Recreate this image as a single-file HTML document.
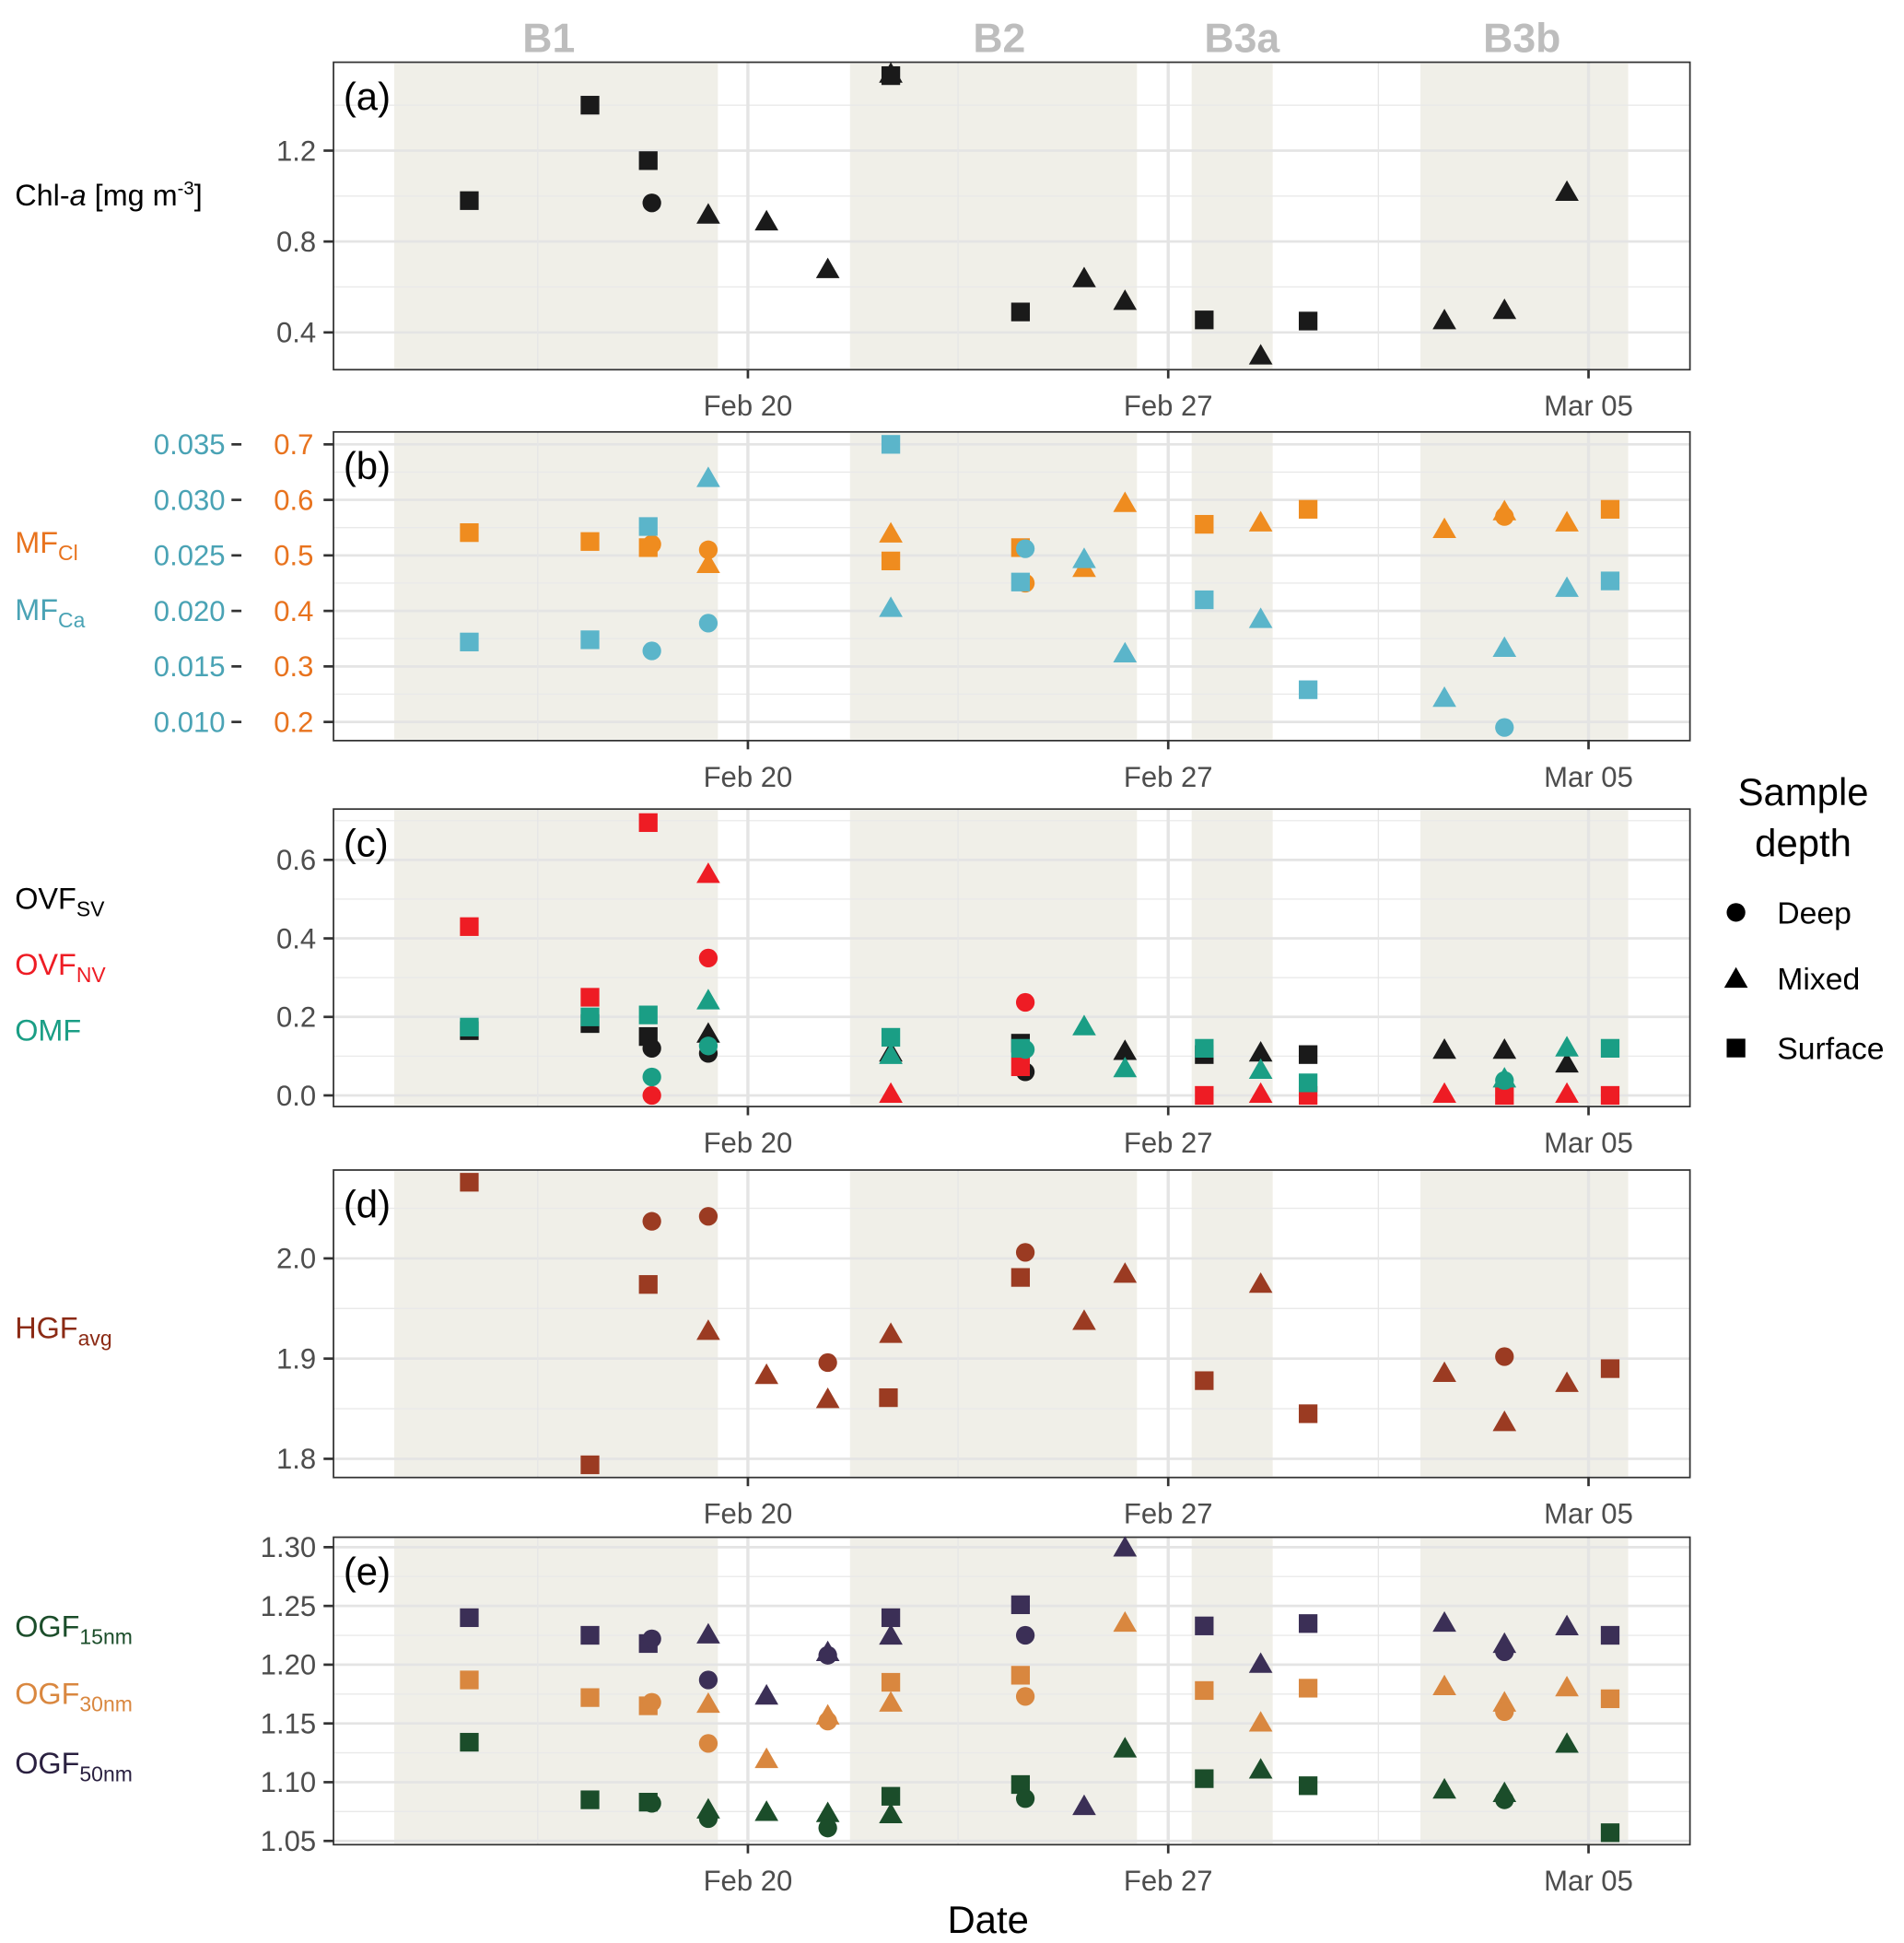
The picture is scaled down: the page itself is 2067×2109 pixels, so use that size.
<!DOCTYPE html>
<html><head><meta charset="utf-8">
<style>html,body{margin:0;padding:0;background:#fff}svg{display:block}text{font-family:"Liberation Sans",sans-serif}</style>
</head><body>
<svg id="chart" width="2067" height="2109" viewBox="0 0 1530 1561" preserveAspectRatio="none" xmlns="http://www.w3.org/2000/svg"></svg>
<script>
// Day offsets from Feb 20
const xTickDays = [0, 7, 14];
const xTickLabels = ["Feb 20", "Feb 27", "Mar 05"];
const bloomNames = ["B1", "B2", "B3a", "B3b"];
const bloomStart = [-5.89, 1.7, 7.39, 11.2];
const bloomEnd = [-0.5, 6.48, 8.74, 14.66];

// Panel a: Chl-a
const aX = [-4.64,-2.63,-1.66,-1.6,-0.66,0.31,1.33,2.38,2.38,4.54,5.6,6.28,7.6,8.54,9.33,11.6,12.6,13.64];
const aShape = ["s","s","s","c","t","t","t","s","t","s","t","t","s","t","s","t","t","t"];
const aChl = [0.98,1.40,1.156,0.97,0.92,0.89,0.68,1.53,1.54,0.49,0.64,0.54,0.455,0.30,0.45,0.455,0.50,1.02];

// Panel b
const bX = [-4.64,-2.63,-1.66,-1.6,-0.66,-0.66,2.38,2.38,4.54,4.62,5.6,6.28,7.6,8.54,9.33,11.6,12.6,12.6,13.64,14.36];
const bShape = ["s","s","s","c","c","t","s","t","s","c","t","t","s","t","s","t","t","c","t","s"];
const bMFCl = [0.541,0.525,0.514,0.52,0.51,0.485,0.49,0.54,0.514,0.45,0.478,0.595,0.556,0.56,0.583,0.548,0.58,0.57,0.56,0.583];
const bMFCa = [0.0172,0.0174,0.0276,0.0164,0.0189,0.032,0.035,0.0203,0.0226,0.0256,0.0247,0.0162,0.021,0.0193,0.0129,0.0122,0.0167,0.0095,0.0221,0.0227];

// Panel c
const cNVX = [-4.64,-2.63,-1.66,-1.6,-0.66,-0.66,2.38,4.62,4.54,7.6,8.54,9.33,11.6,12.6,13.64,14.36];
const cNVShape = ["s","s","s","c","t","c","t","c","s","s","t","s","t","s","t","s"];
const cNV = [0.43,0.25,0.695,0,0.565,0.35,0.005,0.237,0.073,0,0.005,0,0.005,0,0.005,0];
const cSVX = [-4.64,-2.63,-1.66,-1.6,-0.66,-0.66,2.38,4.54,4.62,6.28,7.6,8.54,9.33,11.6,12.6,12.6,13.64];
const cSVShape = ["s","s","s","c","t","c","t","s","c","t","s","t","s","t","t","c","t"];
const cSV = [0.165,0.183,0.15,0.12,0.158,0.107,0.11,0.133,0.06,0.114,0.104,0.11,0.104,0.117,0.117,0.025,0.082];
const cOMX = [-4.64,-2.63,-1.66,-1.6,-0.66,-0.66,2.38,2.38,4.54,4.62,5.6,6.28,7.6,8.54,9.33,12.6,12.6,13.64,14.36];
const cOMShape = ["s","s","s","c","t","c","s","t","s","c","t","t","s","t","s","t","c","t","s"];
const cOMF = [0.174,0.2,0.205,0.047,0.243,0.126,0.148,0.104,0.12,0.117,0.177,0.07,0.12,0.066,0.032,0.044,0.038,0.123,0.12];

// Panel d
const dX = [-4.64,-2.63,-1.6,-1.66,-0.66,-0.66,0.31,1.33,1.33,2.38,2.34,4.54,4.62,5.6,6.28,7.6,8.54,9.33,11.6,12.6,12.6,13.64,14.36];
const dShape = ["s","s","c","s","c","t","t","c","t","t","s","s","c","t","t","s","t","s","t","c","t","t","s"];
const dHGF = [2.076,1.794,2.037,1.974,2.042,1.928,1.884,1.896,1.86,1.925,1.861,1.981,2.006,1.938,1.985,1.878,1.975,1.845,1.886,1.902,1.837,1.876,1.89];

// Panel e
const eX = [-4.64,-2.63,-1.66,-1.6,-0.66,-0.66,0.31,1.33,1.33,2.38,2.38,4.54,4.62,5.6,6.28,7.6,8.54,9.33,11.6,12.6,12.6,13.64,14.36];
const eShape = ["s","s","s","c","t","c","t","c","t","s","t","s","c","t","t","s","t","s","t","t","c","t","s"];
const e50 = [1.24,1.225,1.218,1.222,1.226,1.187,1.174,1.208,1.211,1.24,1.225,1.251,1.225,1.08,1.30,1.233,1.201,1.235,1.236,1.218,1.211,1.233,1.225];
const e30X = [-4.64,-2.63,-1.66,-1.6,-0.66,-0.66,0.31,1.33,1.33,2.38,2.38,4.54,4.62,6.28,7.6,8.54,9.33,11.6,12.6,12.6,13.64,14.36];
const e30Shape = ["s","s","s","c","t","c","t","t","c","s","t","s","c","t","s","t","s","t","t","c","t","s"];
const e30 = [1.187,1.172,1.165,1.168,1.167,1.133,1.12,1.157,1.152,1.185,1.168,1.191,1.173,1.236,1.178,1.151,1.18,1.182,1.168,1.16,1.181,1.171];
const e15X = [-4.64,-2.63,-1.66,-1.6,-0.66,-0.66,0.31,1.33,1.33,2.38,2.38,4.54,4.62,6.28,7.6,8.54,9.33,11.6,12.6,12.6,13.64,14.36];
const e15Shape = ["s","s","s","c","t","c","t","t","c","s","t","s","c","t","s","t","s","t","t","c","t","s"];
const e15 = [1.134,1.085,1.083,1.082,1.077,1.069,1.075,1.074,1.061,1.088,1.073,1.098,1.086,1.129,1.103,1.111,1.097,1.094,1.091,1.085,1.133,1.057];

const NS = "http://www.w3.org/2000/svg";
const svg = document.getElementById("chart");
const PL = 268, PR = 1358;
function xs(d){ return 601 + d * 48.25; }
function el(tag, attrs, parent){
  const e = document.createElementNS(NS, tag);
  for (const k in attrs) e.setAttribute(k, attrs[k]);
  (parent || svg).appendChild(e);
  return e;
}
function txt(s, attrs, parent){ const t = el("text", attrs, parent); t.textContent = s; return t; }

function marker(g, shape, cx, cy, color){
  let m;
  if (shape === "c") m = el("circle", {cx:cx, cy:cy, r:7.5, fill:color}, g);
  else if (shape === "s") m = el("rect", {x:cx-7.5, y:cy-7.5, width:15, height:15, fill:color}, g);
  else m = el("polygon", {points:(cx-9.5)+","+(cy+7.5)+" "+(cx+9.5)+","+(cy+7.5)+" "+cx+","+(cy-9)+"", fill:color}, g);
  return m;
}

function panel(name, top, bottom, vTop, vBot, majors, minors, letter){
  const g = el("g", {});
  
  
  const ys = v => bottom + (v - vBot) / (vTop - vBot) * (top - bottom);
  el("rect", {x:PL, y:top, width:PR-PL, height:bottom-top, fill:"#fff"}, g);
  for (let i=0;i<bloomNames.length;i++){
    const r = el("rect", {x:xs(bloomStart[i]), y:top+1, width:xs(bloomEnd[i])-xs(bloomStart[i]), height:bottom-top-2, fill:"#f0efe8"}, g);
    
    
  }
  minors.forEach(v => el("line", {x1:PL, x2:PR, y1:ys(v), y2:ys(v), stroke:"#e9e9e9", "stroke-width":1}, g));
  majors.forEach(v => el("line", {x1:PL, x2:PR, y1:ys(v), y2:ys(v), stroke:"#e4e4e4", "stroke-width":2}, g));
  [-3.5, 3.5, 10.5].forEach(d => el("line", {x1:xs(d), x2:xs(d), y1:top, y2:bottom, stroke:"#e6e6e6", "stroke-width":1}, g));
  xTickDays.forEach(d => el("line", {x1:xs(d), x2:xs(d), y1:top, y2:bottom, stroke:"#e4e4e4", "stroke-width":2.5}, g));
  el("rect", {x:PL, y:top, width:PR-PL, height:bottom-top, fill:"none", stroke:"#333", "stroke-width":1.3}, g);
  xTickDays.forEach((d,i) => {
    el("line", {x1:xs(d), x2:xs(d), y1:bottom, y2:bottom+7, stroke:"#333", "stroke-width":2}, g);
    const t = txt(xTickLabels[i], {x:xs(d), y:bottom+37, "text-anchor":"middle", "font-size":23, fill:"#4d4d4d"}, g);
    
    
  });
  const lt = txt(letter, {x:276, y:top+38, "font-size":31, fill:"#000"}, g);
  
  
  return {g, ys};
}
function yTicks(p, vals, labels, color, xr){
  vals.forEach((v,i) => {
    el("line", {x1:260, x2:268, y1:p.ys(v), y2:p.ys(v), stroke:"#333", "stroke-width":2}, p.g);
    const t = txt(labels[i], {x:xr, y:p.ys(v)+8, "text-anchor":"end", "font-size":23, fill:color}, p.g);
    
    
  });
}
function series(p, name, X, Y, S, color, tf){
  const g = el("g", {}, p.g);
  
  
  for (let i=0;i<X.length;i++){
    const v = tf ? tf(Y[i]) : Y[i];
    const m = marker(g, S[i], xs(X[i]), p.ys(v), color);
    
    
  }
}
function ylab(main, sub, y, color, italicA){
  const t = el("text", {x:12, y:y, "font-size":24, fill:color});
  
  
  if (italicA){
    t.appendChild(document.createTextNode("Chl-"));
    const a = el("tspan", {"font-style":"italic"}, t); a.textContent = "a";
    t.appendChild(document.createTextNode(" [mg m"));
    const s = el("tspan", {"font-size":15, dy:-9}, t); s.textContent = "-3";
    const e = el("tspan", {dy:9}, t); e.textContent = "]";
    return;
  }
  t.appendChild(document.createTextNode(main));
  const s = el("tspan", {"font-size":17, dy:6}, t); s.textContent = sub;
}

// Bloom labels
bloomNames.forEach((n,i) => {
  const cx = [441, 803, 998, 1223][i];
  const t = txt(n, {x:cx, y:42, "text-anchor":"middle", "font-size":33, "font-weight":"bold", fill:"#bdbdbd"});
  
  
});

// Panel a
const pa = panel("panel-a", 50, 297, 1.589, 0.236, [0.4,0.8,1.2], [0.6,1.0,1.4], "(a)");
yTicks(pa, [0.4,0.8,1.2], ["0.4","0.8","1.2"], "#4d4d4d", 254);
series(pa, "chl-a", aX, aChl, aShape, "#1a1a1a");
ylab("", "", 165, "#000", true);

// Panel b
const pb = panel("panel-b", 347, 595, 0.7 + 10/446, 0.2 - 15/446, [0.2,0.3,0.4,0.5,0.6,0.7], [0.25,0.35,0.45,0.55,0.65], "(b)");
yTicks(pb, [0.2,0.3,0.4,0.5,0.6,0.7], ["0.2","0.3","0.4","0.5","0.6","0.7"], "#e8731e", 252);
[0.2,0.3,0.4,0.5,0.6,0.7].forEach((v,i) => {
  el("line", {x1:186, x2:194, y1:pb.ys(v), y2:pb.ys(v), stroke:"#333", "stroke-width":2}, pb.g);
  const t = txt(["0.010","0.015","0.020","0.025","0.030","0.035"][i], {x:181, y:pb.ys(v)+8, "text-anchor":"end", "font-size":23, fill:"#4aa3b5"}, pb.g);
  
  
});
series(pb, "mf-cl", bX, bMFCl, bShape, "#ef8c1f");
series(pb, "mf-ca", bX, bMFCa, bShape, "#5bb5ca", c => 0.2 + (c - 0.01) * 20);
ylab("MF", "Cl", 444, "#e8731e");
ylab("MF", "Ca", 498, "#4aa3b5");

// Panel c
const pc = panel("panel-c", 650, 889, 0.7295, -0.0284, [0,0.2,0.4,0.6], [0.1,0.3,0.5,0.7], "(c)");
yTicks(pc, [0,0.2,0.4,0.6], ["0.0","0.2","0.4","0.6"], "#4d4d4d", 254);
series(pc, "ovf-sv", cSVX, cSV, cSVShape, "#1a1a1a");
series(pc, "ovf-nv", cNVX, cNV, cNVShape, "#ee1c24");
series(pc, "omf", cOMX, cOMF, cOMShape, "#1a9e85");
ylab("OVF", "SV", 730, "#000");
ylab("OVF", "NV", 783, "#ee1c24");
ylab("OMF", "", 836, "#1a9e85");

// Panel d
const pd = panel("panel-d", 940, 1187, 2.0 + 71/805, 1.8 - 15/805, [1.8,1.9,2.0], [1.85,1.95,2.05], "(d)");
yTicks(pd, [1.8,1.9,2.0], ["1.8","1.9","2.0"], "#4d4d4d", 254);
series(pd, "hgf-avg", dX, dHGF, dShape, "#9b3b22");
ylab("HGF", "avg", 1075, "#8b2a14");

// Panel e
const pe = panel("panel-e", 1235, 1482, 1.30 + 8/944, 1.05 - 3/944, [1.05,1.10,1.15,1.20,1.25,1.30], [1.075,1.125,1.175,1.225,1.275], "(e)");
yTicks(pe, [1.05,1.10,1.15,1.20,1.25,1.30], ["1.05","1.10","1.15","1.20","1.25","1.30"], "#4d4d4d", 254);
series(pe, "ogf-50nm", eX, e50, eShape, "#3b2f56");
series(pe, "ogf-30nm", e30X, e30, e30Shape, "#d9873f");
series(pe, "ogf-15nm", e15X, e15, e15Shape, "#1b4d2a");
ylab("OGF", "15nm", 1315, "#1b4d2a");
ylab("OGF", "30nm", 1369, "#d9873f");
ylab("OGF", "50nm", 1425, "#2a2040");

// X axis title
const xt = txt("Date", {x:794, y:1553, "text-anchor":"middle", "font-size":31, fill:"#000"});



// Legend
const lg = el("g", {});


const l1 = txt("Sample", {x:1449, y:647, "text-anchor":"middle", "font-size":31, fill:"#000"}, lg);


const l2 = txt("depth", {x:1449, y:688, "text-anchor":"middle", "font-size":31, fill:"#000"}, lg);


[["c","Deep",733],["t","Mixed",786],["s","Surface",842]].forEach(e => {
  const m = marker(lg, e[0], 1395, e[2], "#000");
  
  
  const t = txt(e[1], {x:1428, y:e[2]+9, "font-size":25, fill:"#000"}, lg);
  
  
});
</script>
</body></html>
